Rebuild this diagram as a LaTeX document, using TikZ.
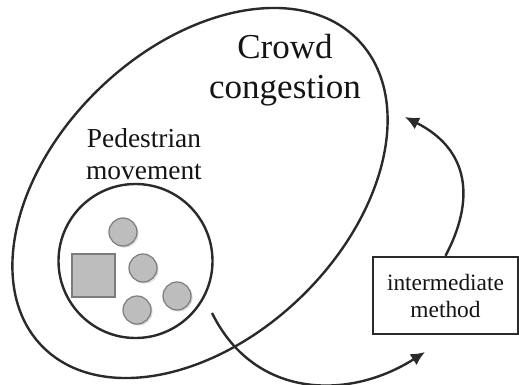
\documentclass[tikz,border=0pt]{standalone}
\usepackage{fontspec}
\setmainfont{Liberation Serif}
\usetikzlibrary{shapes.geometric,arrows.meta,shadows}
\definecolor{linec}{HTML}{2A2A2A}
\definecolor{agentfill}{HTML}{BDBDBD}
\definecolor{agentdraw}{HTML}{7C7C7C}
\tikzset{
  outline/.style={draw=linec, line width=1.2pt},
  agent/.style={circle, minimum size=14pt, inner sep=0pt, fill=agentfill, draw=agentdraw, line width=0.6pt,
     drop shadow={shadow xshift=0.8pt, shadow yshift=-0.8pt, fill=black!15, opacity=1}},
  block/.style={rectangle, minimum width=21.5pt, minimum height=21.5pt, inner sep=0pt, fill=agentfill, draw=agentdraw, line width=0.6pt},
  flow/.style={draw=linec, line width=1.2pt, -{Latex[length=7pt,width=6.5pt]}},
  label/.style={align=center, inner sep=0pt, text=black!92}
}
\begin{document}
\begin{tikzpicture}[x=0.5pt,y=-0.5pt]
\useasboundingbox (0,0) rectangle (519,385);
% outer crowd ellipse
\node[outline, ellipse, inner sep=0pt, minimum width=220pt, minimum height=145pt, rotate=44] (crowd) at (200,193) {};
% inner pedestrian circle
\node[outline, circle, inner sep=0pt, minimum size=77pt] (ped) at (135.5,261) {};
% agents
\node[block] (sq) at (93.5,275.5) {};
\node[agent] (a1) at (123,232) {};
\node[agent] (a2) at (143,268) {};
\node[agent] (a3) at (177,296) {};
\node[agent] (a4) at (137,310) {};
% labels
\node[label, font=\fontsize{17.5pt}{20pt}\selectfont] (crowdtxt) at (285,70) {Crowd\\congestion};
\node[label, font=\fontsize{13.7pt}{16pt}\selectfont] (pedtxt) at (144,154) {Pedestrian\\movement};
% intermediate method box
\node[outline, rectangle, minimum width=72.5pt, minimum height=38.5pt, inner sep=0pt,
      align=center, font=\fontsize{11.7pt}{13.5pt}\selectfont, text=black!92] (box) at (445.5,295.5) {intermediate\\method};
% connectors
\coordinate (s1) at (212,313);
\coordinate (e1) at (425,352);
\coordinate (e2) at (405,117);
\draw[flow] (s1) .. controls (255,400) and (350,400) .. (e1);
\draw[flow] (box.north) .. controls (475,200) and (470,150) .. (e2);
\end{tikzpicture}
\end{document}
